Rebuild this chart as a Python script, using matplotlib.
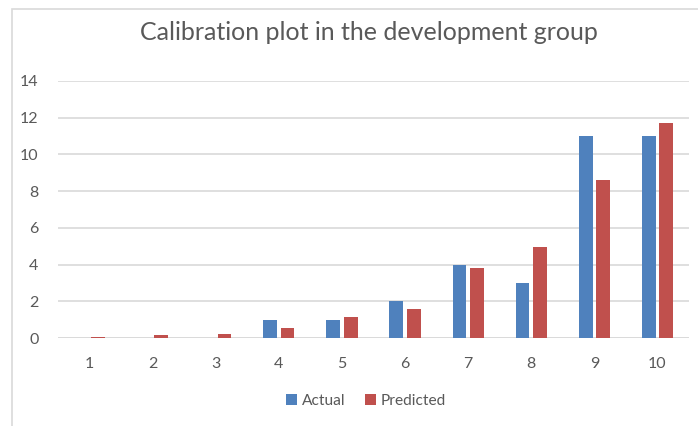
import numpy as np
import matplotlib
matplotlib.use('Agg')
import matplotlib.pyplot as plt
from matplotlib.patches import Rectangle

plt.rcParams['font.family'] = ['Lato', 'DejaVu Sans']

groups = ['1', '2', '3', '4', '5', '6', '7', '8', '9', '10']
actual = [0, 0, 0, 1, 1, 2, 4, 3, 11, 11]
predicted = [0.08, 0.15, 0.2, 0.55, 1.12, 1.58, 3.83, 4.94, 8.59, 11.71]

blue = '#4F81BD'
red = '#C0504D'
txt = '#595959'
grid = '#D9D9D9'

fig = plt.figure(figsize=(6.98, 4.26), dpi=100)
ax = fig.add_axes([58/698, 1-338/426, (689-58)/698, (338-81)/426])

x = np.arange(len(groups))
w = 0.22
off = 0.138
ax.bar(x - off, actual, w, color=blue, label='Actual', zorder=3)
ax.bar(x + off, predicted, w, color=red, label='Predicted', zorder=3)

ax.set_xlim(-0.5, len(groups) - 0.5)
ax.set_ylim(0, 14)
ax.set_yticks(np.arange(0, 15, 2))
ax.set_xticks(x)
ax.set_xticklabels(groups)
ax.yaxis.grid(True, color=grid, linewidth=1.2, zorder=0)
for s in ax.spines.values():
    s.set_visible(False)
ax.tick_params(length=0, labelsize=11.5, colors=txt)
ax.tick_params(axis='y', pad=14)
ax.tick_params(axis='x', pad=14)
ax.axhline(0, color=grid, linewidth=1.2, zorder=2)

fig.text(369/698, 1-33/426, 'Calibration plot in the development group',
         ha='center', va='center', fontsize=18, color=txt)

fig.legend(loc='center', bbox_to_anchor=(366/698, 1-401/426), ncol=2, frameon=False,
           fontsize=11.2, labelcolor=txt, handlelength=0.7, handleheight=0.7,
           handletextpad=0.3, columnspacing=1.3)

fig.patches.append(Rectangle((12/698, -0.1), 1.1, 1 - 9/426 + 0.1, transform=fig.transFigure,
                             fill=False, edgecolor=grid, linewidth=1.2))

fig.savefig('out.png', dpi=100)
